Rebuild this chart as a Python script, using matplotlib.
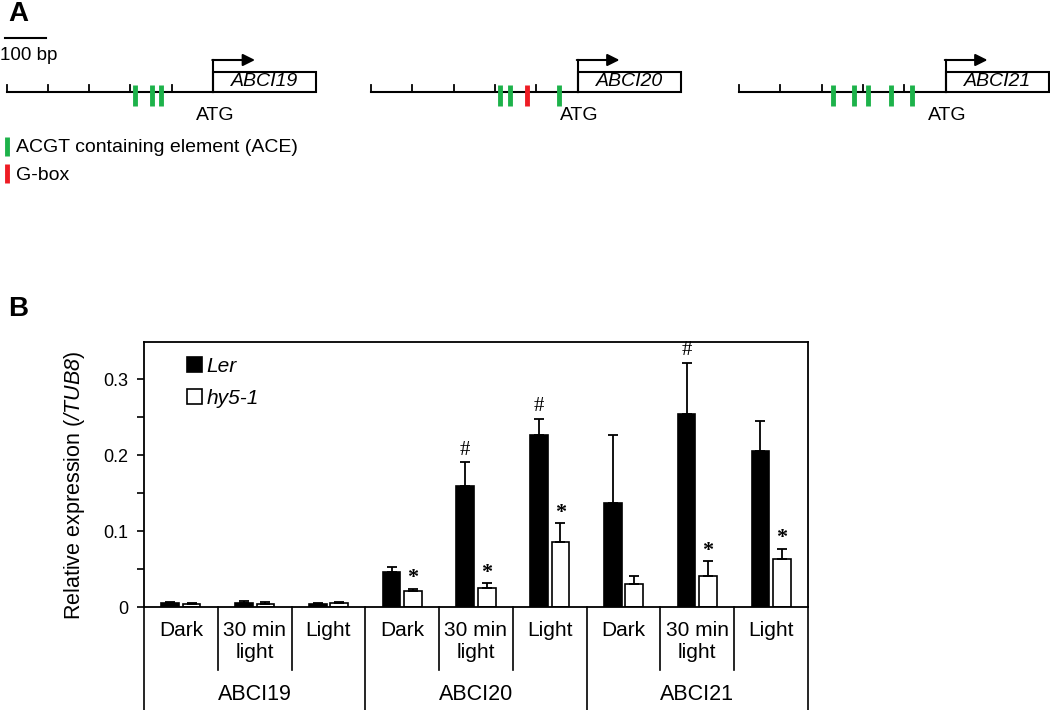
import numpy as np
import matplotlib.pyplot as plt
from matplotlib.patches import Rectangle
from matplotlib.transforms import blended_transform_factory
from matplotlib.ticker import FixedLocator, FuncFormatter

plt.rcParams['font.family'] = ['Liberation Sans', 'DejaVu Sans']
# math text only used for the italic gene name in the y label
plt.rcParams['mathtext.fontset'] = 'custom'
plt.rcParams['mathtext.rm'] = 'Liberation Sans:italic'
plt.rcParams['mathtext.it'] = 'Liberation Sans:italic'

# ---- panel A data (positions in bp relative to ATG) ----
promoter_genes = ['ABCI19', 'ABCI20', 'ABCI21']
tick_bp = [-500, -400, -300, -200, -100]
ace_abci19 = [-189, -147, -126]
ace_abci20 = [-187, -163, -45]
gbox_abci20 = [-123]
ace_abci21 = [-272, -221, -187, -133, -82]
gene_box_bp = 250

# ---- panel B data ----
conditions = ['Dark', '30 min\nlight', 'Light']
genes = ['ABCI19', 'ABCI20', 'ABCI21']
ler_mean = [0.005, 0.005, 0.004, 0.046, 0.160, 0.227, 0.137, 0.254, 0.206]
ler_err = [0.002, 0.003, 0.001, 0.007, 0.031, 0.021, 0.089, 0.068, 0.039]
hy5_mean = [0.004, 0.004, 0.005, 0.021, 0.025, 0.085, 0.030, 0.041, 0.063]
hy5_err = [0.001, 0.002, 0.001, 0.003, 0.006, 0.025, 0.011, 0.019, 0.014]
ler_sig = ['', '', '', '', '#', '#', '', '#', '']
hy5_sig = ['', '', '', '*', '*', '*', '', '*', '*']

fig = plt.figure(figsize=(10.5, 7.1), dpi=100)

# Panel A drawn in pixel coordinates
ax_a = fig.add_axes([0, 0, 1, 1])
ax_a.set_xlim(0, 1050)
ax_a.set_ylim(710, 0)
ax_a.axis('off')

ax_a.text(8, 1, 'A', fontsize=20, fontweight='bold', va='top', ha='left')
ax_a.text(8, 296, 'B', fontsize=20, fontweight='bold', va='top', ha='left')

px_per_bp = 0.413
ax_a.plot([5, 5 + 100 * px_per_bp], [38, 38], color='black', lw=1.5)
ax_a.text(0, 56, '100 bp', fontsize=13.5, va='center', ha='left')

atg_x = [213, 577.5, 945.5]
line_y = 92
ace_sets = [ace_abci19, ace_abci20, ace_abci21]
gbox_sets = [[], gbox_abci20, []]
for name, x0, aces, gboxes in zip(promoter_genes, atg_x, ace_sets, gbox_sets):
    def px(bp):
        return x0 + np.asarray(bp) * px_per_bp
    ax_a.plot([px(-500), x0], [line_y, line_y], color='black', lw=1.5)
    for t in tick_bp:
        ax_a.plot([px(t), px(t)], [line_y, line_y - 7], color='black', lw=1.3)
    for b in aces:
        ax_a.plot([px(b), px(b)], [line_y - 7, line_y + 14], color='#1db24a', lw=3.5,
                  solid_capstyle='butt')
    for b in gboxes:
        ax_a.plot([px(b), px(b)], [line_y - 7, line_y + 14], color='#ee1c24', lw=3.5,
                  solid_capstyle='butt')
    w = gene_box_bp * px_per_bp
    ax_a.add_patch(Rectangle((x0, line_y - 20), w, 20, fill=False, ec='black', lw=1.5))
    ax_a.text(x0 + w / 2, line_y - 10, name, fontsize=14, style='italic',
              ha='center', va='center')
    ax_a.plot([x0, x0], [line_y, line_y - 32], color='black', lw=1.5)
    ax_a.annotate('', xy=(x0 + 42, line_y - 32), xytext=(x0 - 0.7, line_y - 32),
                  arrowprops=dict(arrowstyle='-|>', color='black', lw=1.5,
                                  mutation_scale=18, shrinkA=0, shrinkB=0))
    ax_a.text(x0 + 2, line_y + 23, 'ATG', fontsize=14, ha='center', va='center')

# legend for promoter elements
ax_a.plot([7, 7], [137, 156], color='#1db24a', lw=3.5, solid_capstyle='butt')
ax_a.text(16, 147, 'ACGT containing element (ACE)', fontsize=14, va='center')
ax_a.plot([7, 7], [164, 183], color='#ee1c24', lw=3.5, solid_capstyle='butt')
ax_a.text(16, 175, 'G-box', fontsize=14, va='center')

# Panel B
ax = fig.add_axes([144 / 1050, 1 - 607 / 710, 664 / 1050, 265 / 710])
x = np.arange(len(ler_mean))
off, bw = 0.145, 0.24
ax.bar(x - off, ler_mean, bw, color='black', edgecolor='black', lw=1.2, label='Ler',
       yerr=[np.zeros(len(ler_err)), ler_err],
       error_kw=dict(ecolor='black', elinewidth=1.3, capsize=3.5, capthick=1.3))
ax.bar(x + off, hy5_mean, bw, color='white', edgecolor='black', lw=1.2, label='hy5-1',
       yerr=[np.zeros(len(hy5_err)), hy5_err],
       error_kw=dict(ecolor='black', elinewidth=1.3, capsize=3.5, capthick=1.3))

for i in range(len(x)):
    if ler_sig[i]:
        ax.text(x[i] - off, ler_mean[i] + ler_err[i] + 0.003, ler_sig[i],
                family='Liberation Serif', fontsize=15, ha='center', va='bottom')
    if hy5_sig[i]:
        ax.text(x[i] + off, hy5_mean[i] + hy5_err[i] + 0.001, hy5_sig[i],
                family='Liberation Serif', fontsize=16, fontweight='bold',
                ha='center', va='bottom')

ax.set_xlim(-0.5, len(x) - 0.5)
ax.set_ylim(0, 0.349)
ax.yaxis.set_major_locator(FixedLocator([0, 0.1, 0.2, 0.3]))
ax.yaxis.set_minor_locator(FixedLocator([0.05, 0.15, 0.25]))
ax.yaxis.set_major_formatter(FuncFormatter(lambda v, p: '0' if v == 0 else f'{v:.1f}'))
ax.tick_params(axis='y', which='both', direction='out', length=5, width=1.2,
               labelsize=13, pad=6)
ax.set_xticks([])
for s in ax.spines.values():
    s.set_linewidth(1.3)
ax.set_ylabel('Relative expression ($\\mathrm{/TUB8}$)', fontsize=15.5)
ax.yaxis.set_label_coords(-0.086, (607 - 485) / 265)

leg = ax.legend(loc='upper left', bbox_to_anchor=(0.036, 1.015), frameon=False,
                fontsize=15, handlelength=0.75, handleheight=0.75, handletextpad=0.2,
                labelspacing=0.62)
for t in leg.get_texts():
    t.set_style('italic')

# category table under the axis
tr = blended_transform_factory(ax.transData, fig.transFigure)
def fy(py):
    return 1 - py / 710
for k in range(1, len(x)):
    if k % 3 == 0:
        continue
    ax.plot([k - 0.5, k - 0.5], [fy(607), fy(670)], transform=tr, color='black',
            lw=1.2, clip_on=False)
for k in range(0, len(x) + 1, 3):
    ax.plot([k - 0.5, k - 0.5], [fy(607), fy(710)], transform=tr, color='black',
            lw=1.2, clip_on=False)
for i in range(len(x)):
    ax.text(x[i], fy(621), conditions[i % 3], transform=tr, fontsize=15,
            ha='center', va='top', linespacing=1.2)
for g, name in enumerate(genes):
    ax.text(3 * g + 1, fy(695), name, transform=tr, fontsize=15.5,
            ha='center', va='center')

fig.savefig('out.png', dpi=100)
